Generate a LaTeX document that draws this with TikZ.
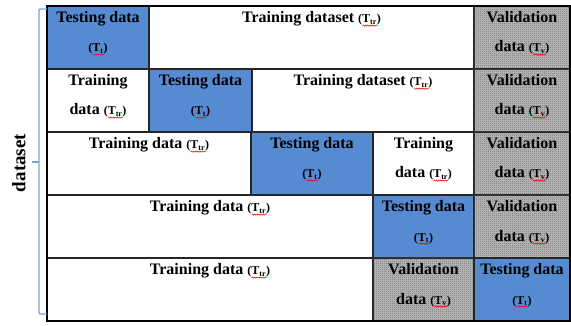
\documentclass[tikz,border=0pt]{standalone}
\usepackage{fontspec}
\setmainfont{Liberation Serif}
\usetikzlibrary{patterns.meta,decorations.pathmorphing}

% small "(T_x)" symbol with a red wavy spell-check underline
\newcommand\tsub[1]{{\fontsize{12}{14}\selectfont(\setbox0\hbox{T\textsubscript{#1}}%
  \rlap{\tikz[baseline=0pt]\draw[red, line width=0.5pt, decorate,
    decoration={snake, amplitude=0.6pt, segment length=2.2pt}]
    (0pt,-2.6pt) -- (\wd0,-2.6pt);}\box0)}}

\definecolor{testblue}{RGB}{86,139,210}
\definecolor{bracecol}{RGB}{120,165,220}

\tikzdeclarepattern{
  name=finechecks, type=uncolored,
  bounding box={(0,0) and (2pt,2pt)}, tile size={(2pt,2pt)},
  code={\fill (0,0) rectangle (1pt,1pt); \fill (1pt,1pt) rectangle (2pt,2pt);}
}

\tikzset{
  grid/.style={draw=black!85, line width=1.3pt},
  testcell/.style={grid, fill=testblue},
  traincell/.style={grid, fill=white},
  valcell/.style={grid, fill=black!25, postaction={pattern=finechecks, pattern color=black!68}},
  celltext/.style={anchor=base, inner sep=0pt, font=\fontsize{16}{18}\selectfont\bfseries, text=black},
}

% #1 name, #2 style, #3 left, #4 right, #5 top, #6 first line, #7 second line
\newcommand\cellat[7]{%
  \path[#2] ({#3},{#5}) rectangle ({#4},{#5+63});
  \node[celltext] (#1a) at ({(#3+#4)/2},{#5+17}) {#6};
  \node[celltext] (#1b) at ({(#3+#4)/2},{#5+46}) {#7};
}

\begin{document}
\begin{tikzpicture}[x=1pt,y=-1pt]
\useasboundingbox (0,0) rectangle (571,326);

% row 1
\cellat{r1c1}{testcell}{47}{149}{6}{Testing data}{\tsub{t}}
\cellat{r1c2}{traincell}{149}{474}{6}{Training dataset \tsub{tr}}{}
\cellat{r1c3}{valcell}{474}{570}{6}{Validation}{data \tsub{v}}
% row 2
\cellat{r2c1}{traincell}{47}{149}{69}{Training}{data \tsub{tr}}
\cellat{r2c2}{testcell}{149}{252}{69}{Testing data}{\tsub{t}}
\cellat{r2c3}{traincell}{252}{474}{69}{Training dataset \tsub{tr}}{}
\cellat{r2c4}{valcell}{474}{570}{69}{Validation}{data \tsub{v}}
% row 3
\cellat{r3c1}{traincell}{47}{251}{132}{Training data \tsub{tr}}{}
\cellat{r3c2}{testcell}{251}{373}{132}{Testing data}{\tsub{t}}
\cellat{r3c3}{traincell}{373}{474}{132}{Training}{data \tsub{tr}}
\cellat{r3c4}{valcell}{474}{570}{132}{Validation}{data \tsub{v}}
% row 4
\cellat{r4c1}{traincell}{47}{373}{195}{Training data \tsub{tr}}{}
\cellat{r4c2}{testcell}{373}{474}{195}{Testing data}{\tsub{t}}
\cellat{r4c3}{valcell}{474}{570}{195}{Validation}{data \tsub{v}}
% row 5
\cellat{r5c1}{traincell}{47}{373}{258}{Training data \tsub{tr}}{}
\cellat{r5c2}{valcell}{373}{474}{258}{Validation}{data \tsub{v}}
\cellat{r5c3}{testcell}{474}{570}{258}{Testing data}{\tsub{t}}

% outer frame
\draw[black, line width=1.6pt] (47,6) rectangle (570,321);

% bracket spanning all folds
\coordinate (btop) at (47,9);
\coordinate (bbot) at (47,314);
\coordinate (bmid) at (39,162);
\coordinate (btick) at (32,162);
\draw[bracecol, line width=1.2pt, rounded corners=1pt] (btop) -| (bmid) |- (bbot);
\draw[bracecol, line width=1.2pt] (bmid) -- (btick);

\node[rotate=90, inner sep=0pt, font=\fontsize{19}{22}\selectfont\bfseries] (dlabel) at (19,163) {dataset};
\end{tikzpicture}
\end{document}
